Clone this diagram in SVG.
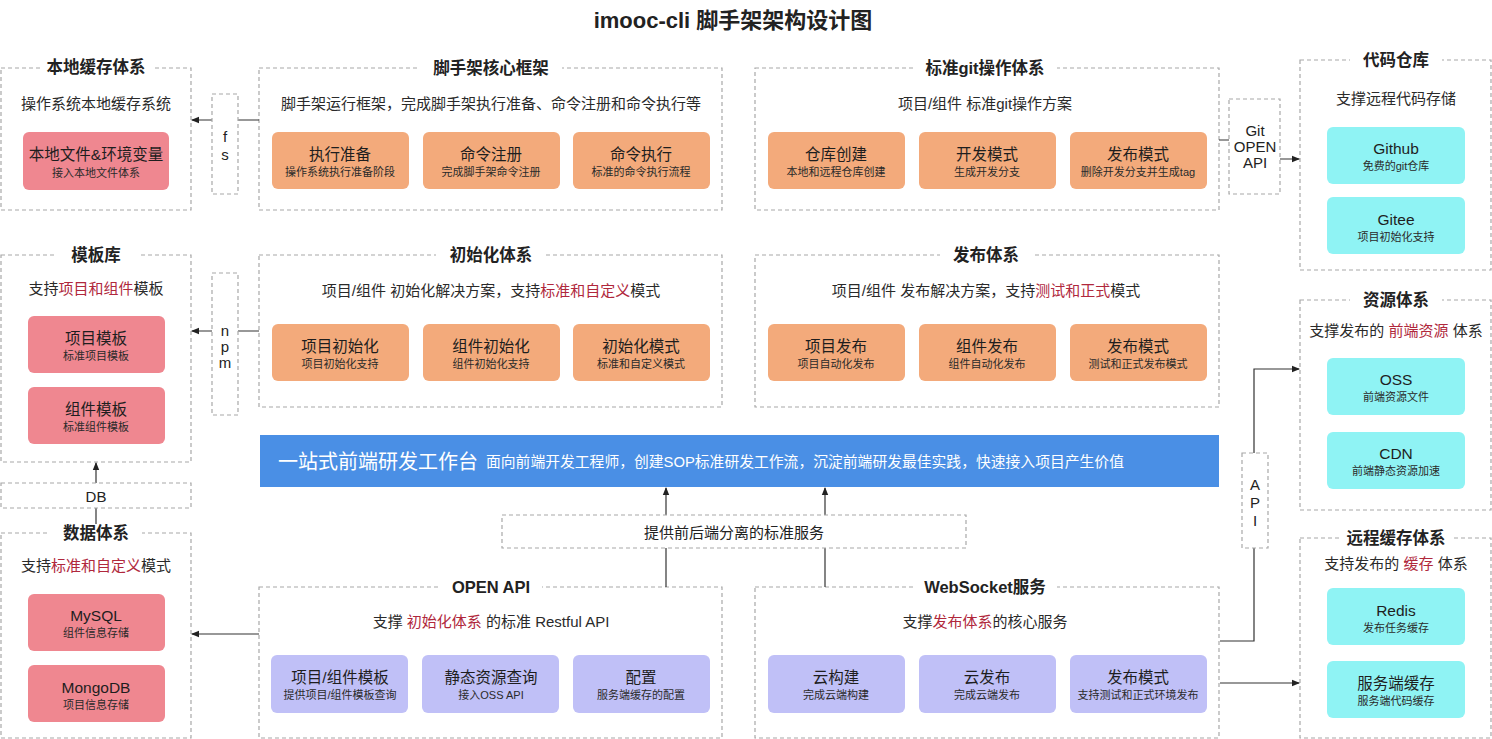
<svg xmlns="http://www.w3.org/2000/svg" width="1492" height="739" viewBox="0 0 1492 739">
<style>
text{font-family:"Liberation Sans","Noto Sans CJK SC",sans-serif;fill:#333;dominant-baseline:central;text-anchor:middle}
.sec{fill:#fff;stroke:#a8a8a8;stroke-width:1.2;stroke-dasharray:4 3}
.lbl{fill:#fff;stroke:#a8a8a8;stroke-width:1.2;stroke-dasharray:4 3}
.tbg{fill:#fff}
.st{font-size:16.5px;font-weight:bold;fill:#222}
.sub{font-size:15px;fill:#2a2a2a}
.hl{fill:#b0283c}
.or{fill:#f3aa7b}
.pk{fill:#ef8790}
.cy{fill:#8ff3f4}
.pu{fill:#c0c0f7}
.m{font-size:15.5px;fill:#1e1e1e}
.s{font-size:11px;fill:#2a2a2a}
.ln{fill:none;stroke:#333;stroke-width:1.2}
.lt{font-size:15px;fill:#222}
</style>
<defs>
<marker id="arr" markerWidth="8" markerHeight="8" refX="7" refY="4" orient="auto" markerUnits="userSpaceOnUse">
<path d="M0,0.8 L8,4 L0,7.2 Z" fill="#222"/>
</marker>
</defs>
<rect width="1492" height="739" fill="#fff"/>
<text x="733" y="20" style="font-size:22px;font-weight:bold;fill:#222">imooc-cli 脚手架架构设计图</text>

<g id="local-cache">
<rect class="sec" x="1" y="68" width="190" height="142"/>
<rect class="tbg" x="40" y="57" width="112" height="22"/>
<text class="st" x="96" y="67">本地缓存体系</text>
<text class="sub" x="96" y="103">操作系统本地缓存系统</text>
<rect class="pk" x="23" y="132" width="146" height="58" rx="6"/>
<text class="m" x="96" y="154">本地文件&amp;环境变量</text>
<text class="s" x="96" y="173">接入本地文件体系</text>
</g>

<g id="core">
<rect class="sec" x="259" y="68" width="463" height="142"/>
<rect class="tbg" x="420" y="57" width="142" height="22"/>
<text class="st" x="491" y="68">脚手架核心框架</text>
<text class="sub" x="491" y="103">脚手架运行框架，完成脚手架执行准备、命令注册和命令执行等</text>
<rect class="or" x="272" y="132" width="137" height="57" rx="6"/>
<text class="m" x="340" y="154">执行准备</text>
<text class="s" x="340" y="172">操作系统执行准备阶段</text>
<rect class="or" x="423" y="132" width="137" height="57" rx="6"/>
<text class="m" x="491" y="154">命令注册</text>
<text class="s" x="491" y="172">完成脚手架命令注册</text>
<rect class="or" x="573" y="132" width="137" height="57" rx="6"/>
<text class="m" x="641" y="154">命令执行</text>
<text class="s" x="641" y="172">标准的命令执行流程</text>
</g>

<g id="git">
<rect class="sec" x="755" y="68" width="464" height="142"/>
<rect class="tbg" x="913" y="57" width="144" height="22"/>
<text class="st" x="985" y="68">标准git操作体系</text>
<text class="sub" x="985" y="103">项目/组件 标准git操作方案</text>
<rect class="or" x="768" y="132" width="137" height="57" rx="6"/>
<text class="m" x="836" y="154">仓库创建</text>
<text class="s" x="836" y="172">本地和远程仓库创建</text>
<rect class="or" x="919" y="132" width="137" height="57" rx="6"/>
<text class="m" x="987" y="154">开发模式</text>
<text class="s" x="987" y="172">生成开发分支</text>
<rect class="or" x="1070" y="132" width="137" height="57" rx="6"/>
<text class="m" x="1138" y="154">发布模式</text>
<text class="s" x="1138" y="172">删除开发分支并生成tag</text>
</g>

<g id="repo">
<rect class="sec" x="1300" y="60" width="191" height="210"/>
<rect class="tbg" x="1350" y="49" width="92" height="22"/>
<text class="st" x="1396" y="60">代码仓库</text>
<text class="sub" x="1396" y="98">支撑远程代码存储</text>
<rect class="cy" x="1327" y="127" width="138" height="57" rx="6"/>
<text class="m" x="1396" y="148">Github</text>
<text class="s" x="1396" y="166">免费的git仓库</text>
<rect class="cy" x="1327" y="197" width="138" height="57" rx="6"/>
<text class="m" x="1396" y="219">Gitee</text>
<text class="s" x="1396" y="237">项目初始化支持</text>
</g>

<g id="templates">
<rect class="sec" x="1" y="255" width="190" height="207"/>
<rect class="tbg" x="54" y="244" width="84" height="22"/>
<text class="st" x="96" y="255">模板库</text>
<text class="sub" x="96" y="288">支持<tspan class="hl">项目和组件</tspan>模板</text>
<rect class="pk" x="28" y="316" width="137" height="57" rx="6"/>
<text class="m" x="96" y="338">项目模板</text>
<text class="s" x="96" y="356">标准项目模板</text>
<rect class="pk" x="28" y="387" width="137" height="57" rx="6"/>
<text class="m" x="96" y="409">组件模板</text>
<text class="s" x="96" y="427">标准组件模板</text>
</g>

<g id="init">
<rect class="sec" x="259" y="255" width="463" height="152"/>
<rect class="tbg" x="436" y="244" width="110" height="22"/>
<text class="st" x="491" y="255">初始化体系</text>
<text class="sub" x="491" y="290">项目/组件 初始化解决方案，支持<tspan class="hl">标准和自定义</tspan>模式</text>
<rect class="or" x="272" y="324" width="137" height="57" rx="6"/>
<text class="m" x="340" y="346">项目初始化</text>
<text class="s" x="340" y="364">项目初始化支持</text>
<rect class="or" x="423" y="324" width="137" height="57" rx="6"/>
<text class="m" x="491" y="346">组件初始化</text>
<text class="s" x="491" y="364">组件初始化支持</text>
<rect class="or" x="573" y="324" width="137" height="57" rx="6"/>
<text class="m" x="641" y="346">初始化模式</text>
<text class="s" x="641" y="364">标准和自定义模式</text>
</g>

<g id="publish">
<rect class="sec" x="755" y="255" width="464" height="152"/>
<rect class="tbg" x="940" y="244" width="92" height="22"/>
<text class="st" x="986" y="255">发布体系</text>
<text class="sub" x="986" y="290">项目/组件 发布解决方案，支持<tspan class="hl">测试和正式</tspan>模式</text>
<rect class="or" x="768" y="324" width="137" height="57" rx="6"/>
<text class="m" x="836" y="346">项目发布</text>
<text class="s" x="836" y="364">项目自动化发布</text>
<rect class="or" x="919" y="324" width="137" height="57" rx="6"/>
<text class="m" x="987" y="346">组件发布</text>
<text class="s" x="987" y="364">组件自动化发布</text>
<rect class="or" x="1070" y="324" width="137" height="57" rx="6"/>
<text class="m" x="1138" y="346">发布模式</text>
<text class="s" x="1138" y="364">测试和正式发布模式</text>
</g>

<g id="resources">
<rect class="sec" x="1300" y="300" width="191" height="210"/>
<rect class="tbg" x="1350" y="289" width="92" height="22"/>
<text class="st" x="1396" y="300">资源体系</text>
<text class="sub" x="1396" y="330">支撑发布的 <tspan class="hl">前端资源</tspan> 体系</text>
<rect class="cy" x="1327" y="358" width="138" height="57" rx="6"/>
<text class="m" x="1396" y="379">OSS</text>
<text class="s" x="1396" y="397">前端资源文件</text>
<rect class="cy" x="1327" y="432" width="138" height="57" rx="6"/>
<text class="m" x="1396" y="453">CDN</text>
<text class="s" x="1396" y="471">前端静态资源加速</text>
</g>

<g id="workbench">
<rect x="260" y="435" width="959" height="52" fill="#4a8fe5"/>
<text x="278" y="462" style="text-anchor:start;fill:#fff;font-size:20px">一站式前端研发工作台<tspan dx="8" style="font-size:14.8px">面向前端开发工程师，创建SOP标准研发工作流，沉淀前端研发最佳实践，快速接入项目产生价值</tspan></text>
</g>

<g id="data">
<rect class="sec" x="1" y="533" width="190" height="205"/>
<rect class="tbg" x="50" y="522" width="92" height="22"/>
<text class="st" x="96" y="533">数据体系</text>
<text class="sub" x="96" y="565">支持<tspan class="hl">标准和自定义</tspan>模式</text>
<rect class="pk" x="28" y="594" width="137" height="57" rx="6"/>
<text class="m" x="96" y="615">MySQL</text>
<text class="s" x="96" y="633">组件信息存储</text>
<rect class="pk" x="28" y="665" width="137" height="57" rx="6"/>
<text class="m" x="96" y="687">MongoDB</text>
<text class="s" x="96" y="705">项目信息存储</text>
</g>

<g id="openapi">
<rect class="sec" x="259" y="587" width="463" height="151"/>
<rect class="tbg" x="440" y="576" width="102" height="22"/>
<text class="st" x="491" y="587">OPEN API</text>
<text class="sub" x="491" y="621">支撑 <tspan class="hl">初始化体系</tspan> 的标准 Restful API</text>
<rect class="pu" x="271" y="655" width="137" height="58" rx="6"/>
<text class="m" x="340" y="677">项目/组件模板</text>
<text class="s" x="340" y="695">提供项目/组件模板查询</text>
<rect class="pu" x="422" y="655" width="137" height="58" rx="6"/>
<text class="m" x="491" y="677">静态资源查询</text>
<text class="s" x="491" y="695">接入OSS API</text>
<rect class="pu" x="573" y="655" width="137" height="58" rx="6"/>
<text class="m" x="641" y="677">配置</text>
<text class="s" x="641" y="695">服务端缓存的配置</text>
</g>

<g id="websocket">
<rect class="sec" x="755" y="587" width="464" height="151"/>
<rect class="tbg" x="913" y="576" width="144" height="22"/>
<text class="st" x="985" y="587">WebSocket服务</text>
<text class="sub" x="985" y="621">支撑<tspan class="hl">发布体系</tspan>的核心服务</text>
<rect class="pu" x="768" y="655" width="137" height="58" rx="6"/>
<text class="m" x="836" y="677">云构建</text>
<text class="s" x="836" y="695">完成云端构建</text>
<rect class="pu" x="919" y="655" width="137" height="58" rx="6"/>
<text class="m" x="987" y="677">云发布</text>
<text class="s" x="987" y="695">完成云端发布</text>
<rect class="pu" x="1070" y="655" width="137" height="58" rx="6"/>
<text class="m" x="1138" y="677">发布模式</text>
<text class="s" x="1138" y="695">支持测试和正式环境发布</text>
</g>

<g id="remote-cache">
<rect class="sec" x="1300" y="538" width="191" height="200"/>
<rect class="tbg" x="1340" y="527" width="112" height="22"/>
<text class="st" x="1396" y="538">远程缓存体系</text>
<text class="sub" x="1396" y="563">支持发布的 <tspan class="hl">缓存</tspan> 体系</text>
<rect class="cy" x="1327" y="588" width="138" height="57" rx="6"/>
<text class="m" x="1396" y="610">Redis</text>
<text class="s" x="1396" y="628">发布任务缓存</text>
<rect class="cy" x="1327" y="661" width="138" height="57" rx="6"/>
<text class="m" x="1396" y="683">服务端缓存</text>
<text class="s" x="1396" y="701">服务端代码缓存</text>
</g>

<g id="connectors">
<path class="ln" d="M259,120 H192" marker-end="url(#arr)"/>
<path class="ln" d="M259,331 H192" marker-end="url(#arr)"/>
<path class="ln" d="M96,524 V463" marker-end="url(#arr)"/>
<path class="ln" d="M259,634 H192" marker-end="url(#arr)"/>
<path class="ln" d="M666,587 V488" marker-end="url(#arr)"/>
<path class="ln" d="M825,587 V488" marker-end="url(#arr)"/>
<path class="ln" d="M1219,140 H1254 V159 H1299" marker-end="url(#arr)"/>
<path class="ln" d="M1220,641 H1254 V369 H1299" marker-end="url(#arr)"/>
<path class="ln" d="M1220,683 H1299" marker-end="url(#arr)"/>
</g>

<g id="fs">
<rect class="lbl" x="212" y="94" width="26" height="100"/>
<text class="lt" x="225" y="136">f</text>
<text class="lt" x="225" y="154">s</text>
</g>
<g id="npm">
<rect class="lbl" x="212" y="273" width="26" height="142"/>
<text class="lt" x="225" y="330">n</text>
<text class="lt" x="225" y="346">p</text>
<text class="lt" x="225" y="362">m</text>
</g>
<g id="db">
<rect class="lbl" x="1" y="483" width="190" height="25"/>
<text class="lt" x="96" y="496">DB</text>
</g>
<g id="git-open-api">
<rect class="lbl" x="1229" y="99" width="51" height="95"/>
<text class="lt" x="1255" y="130">Git</text>
<text class="lt" x="1255" y="146">OPEN</text>
<text class="lt" x="1255" y="162">API</text>
</g>
<g id="api">
<rect class="lbl" x="1242" y="453" width="26" height="95"/>
<text class="lt" x="1255" y="484">A</text>
<text class="lt" x="1255" y="502">P</text>
<text class="lt" x="1255" y="520">I</text>
</g>
<g id="service">
<rect class="lbl" x="502" y="515" width="464" height="33"/>
<text class="lt" x="734" y="532">提供前后端分离的标准服务</text>
</g>
</svg>
